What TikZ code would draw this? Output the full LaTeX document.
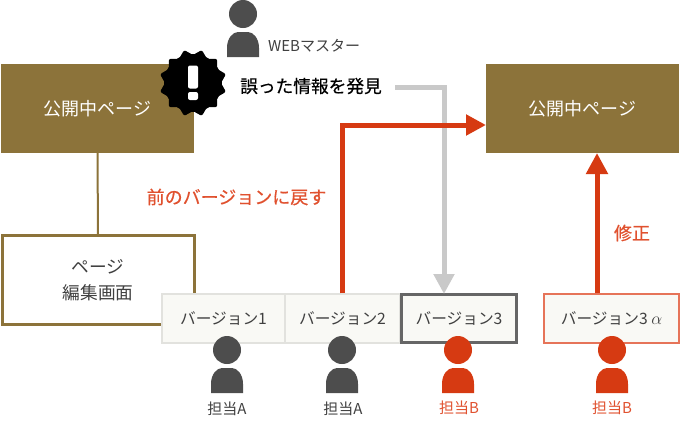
\documentclass[tikz,border=0pt]{standalone}
\usepackage{fontspec}
\setmainfont{Noto Sans CJK JP}
\newfontfamily\semibold[FakeBold=0.5]{Noto Sans CJK JP}
\usetikzlibrary{arrows.meta,shapes.geometric}
\definecolor{pagebrown}{HTML}{8C733A}
\definecolor{alertred}{HTML}{D63A12}
\definecolor{textred}{HTML}{E0512F}
\definecolor{darkperson}{HTML}{4D4D4D}
\definecolor{verfill}{HTML}{F9F9F5}
\definecolor{verline}{HTML}{E2E2DE}
\definecolor{arrowgray}{HTML}{C9C9C9}
\tikzset{
  pagebox/.style={fill=pagebrown, text=white, minimum width=193, minimum height=89, inner sep=0, font=\fontsize{18}{20}\selectfont},
  verbox/.style={fill=verfill, draw=verline, line width=1.5, minimum height=49, inner sep=0, text=black!75, font=\fontsize{15.7}{18}\selectfont},
  staff/.style={text=black!75, inner sep=0, font=\fontsize{15}{18}\selectfont},
  person/.pic={
    \fill[pic actions] (0,0) circle (14);
    \fill[pic actions] (-16,43) -- (-16,34) .. controls (-16,24) and (-10,18) .. (-5,18) -- (5,18) .. controls (10,18) and (16,24) .. (16,34) -- (16,43) -- cycle;
  }
}
\begin{document}
\begin{tikzpicture}[x=1pt, y=-1pt]
\useasboundingbox (0,0) rectangle (680,421);

% Pages
\node[pagebox] (pageL) at (97.5,108.5) {公開中ページ};
\node[pagebox] (pageR) at (582.5,108.5) {公開中ページ};

% Edit screen
\node[draw=pagebrown, line width=3, fill=white, minimum width=192, minimum height=89, inner sep=0, align=center, text=black!75, font=\fontsize{17.7}{26}\selectfont] (edit) at (98,280) {ページ\\編集画面};
\draw[pagebrown, line width=2] (pageL.south) -- (edit.north);

% Versions
\node[verbox, minimum width=123] (ver1) at (223.5,318.5) {バージョン1};
\node[verbox, minimum width=115] (ver2) at (342.5,318.5) {バージョン2};
\node[verbox, draw=black!60, line width=3, minimum width=115, minimum height=48] (ver3) at (459,318.5) {バージョン3};
\node[verbox, draw=textred!80, line width=1.2, minimum width=135] (ver4) at (611.5,318.5) {バージョン3 {\fontsize{19}{18}\selectfont$\alpha$}};

% Alert
\node[star, star points=12, star point ratio=0.82, fill=black, rounded corners=2, minimum size=56, inner sep=0] (alert) at (193,83) {};
\node[fill=white, rounded corners=2, minimum width=10, minimum height=23, inner sep=0] (alertbar) at (193,77) {};
\node[fill=white, rounded corners=2, minimum width=10, minimum height=8, inner sep=0] (alertdot) at (193,96) {};

% Web master
\pic[fill=darkperson] at (243,14) {person};
\node[staff, anchor=west] (master) at (268,46) {WEBマスター};
\node[anchor=west, inner sep=0, font=\fontsize{17.7}{20}\semibold] (found) at (240,86) {誤った情報を発見};

% Arrows
\coordinate (foundout) at (395,87);
\coordinate (ver3in) at (444,294);
\coordinate (pageRin) at (486,125);
\draw[-{Triangle[length=20,width=20]}, arrowgray, line width=5] (foundout) -| (ver3in);
\draw[-{Triangle[length=20,width=20]}, alertred, line width=5] (ver2.north) |- (pageRin);
\draw[-{Triangle[length=21,width=21]}, alertred, line width=5] (ver4.north -| 597,0) -- (597,153);
\node[inner sep=0, text=textred, font=\fontsize{18}{20}\semibold] (backlabel) at (236.5,197) {前のバージョンに戻す};
\node[inner sep=0, text=textred, font=\fontsize{18}{20}\semibold] (fixlabel) at (632,233) {修正};

% Staff
\pic[fill=darkperson] at (227,350) {person};
\pic[fill=darkperson] at (342,350) {person};
\pic[fill=alertred] at (458,350) {person};
\pic[fill=alertred] at (612,350) {person};
\node[staff] (staffA) at (227,409) {担当A};
\node[staff] (staffAb) at (343,409) {担当A};
\node[staff, text=textred] (staffB) at (459,408) {担当B};
\node[staff, text=textred] (staffBb) at (612,408) {担当B};

\end{tikzpicture}
\end{document}
